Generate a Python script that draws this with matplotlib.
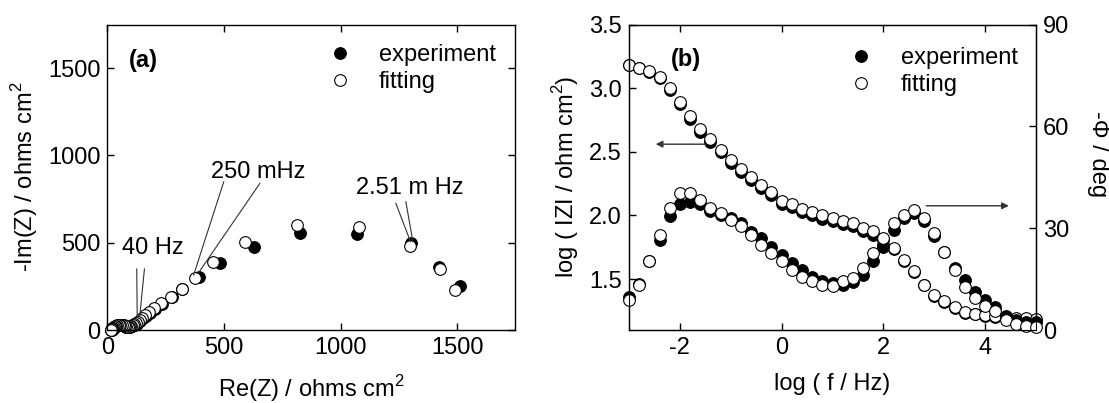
import matplotlib
matplotlib.use("Agg")
import matplotlib.pyplot as plt

plt.rcParams['font.family'] = ['Liberation Sans', 'DejaVu Sans']
plt.rcParams['mathtext.fontset'] = 'custom'
plt.rcParams['mathtext.rm'] = 'Liberation Sans'
plt.rcParams['font.size'] = 17
plt.rcParams['axes.unicode_minus'] = False

# panel (a): Nyquist, low frequency -> high frequency
re_exp = [1514, 1423, 1302, 1071, 826, 628, 482, 391, 322, 276, 236, 205, 183, 165, 152, 142,
          133, 125, 118, 112, 105, 99, 94, 89, 84, 78, 72, 65, 58, 51, 44, 38, 33, 29, 25, 23,
          21, 20, 19, 18, 17]
im_exp = [252, 359, 497, 550, 554, 474, 382, 302, 236, 188, 150, 120, 100, 82, 66, 54,
          44, 36, 30, 26, 22, 19, 17, 16, 17, 20, 24, 27, 28, 28, 27, 24, 20, 15, 11, 8,
          5, 4, 3, 2, 1]
re_fit = [1490, 1428, 1299, 1080, 815, 592, 453, 377, 318, 272, 232, 202, 180, 162, 150, 140,
          131, 123, 116, 110, 103, 97, 92, 87, 82, 76, 70, 63, 56, 49, 42, 36, 31, 27, 24, 22,
          20, 19, 18, 17, 16]
im_fit = [229, 348, 481, 590, 600, 506, 391, 296, 236, 190, 152, 124, 104, 86, 70, 58,
          48, 40, 34, 29, 24, 21, 19, 18, 19, 22, 26, 29, 30, 30, 28, 25, 21, 16, 12, 9,
          6, 4, 3, 2, 1]

# panel (b): Bode
log_f = [-3.0, -2.8, -2.6, -2.4, -2.2, -2.0, -1.8, -1.6, -1.4, -1.2, -1.0, -0.8, -0.6, -0.4,
         -0.2, 0.0, 0.2, 0.4, 0.6, 0.8, 1.0, 1.2, 1.4, 1.6, 1.8, 2.0, 2.2, 2.4, 2.6, 2.8,
         3.0, 3.2, 3.4, 3.6, 3.8, 4.0, 4.2, 4.4, 4.6, 4.8, 5.0]
logz_exp = [3.182, 3.156, 3.128, 3.083, 2.985, 2.872, 2.757, 2.658, 2.580, 2.497, 2.415, 2.342,
            2.276, 2.218, 2.158, 2.088, 2.063, 2.025, 2.000, 1.975, 1.955, 1.930, 1.915, 1.880,
            1.850, 1.770, 1.735, 1.645, 1.553, 1.450, 1.371, 1.320, 1.276, 1.236, 1.222, 1.212,
            1.202, 1.197, 1.187, 1.184, 1.182]
logz_fit = [3.186, 3.160, 3.133, 3.089, 3.002, 2.892, 2.779, 2.680, 2.601, 2.517, 2.439, 2.366,
            2.300, 2.242, 2.182, 2.115, 2.090, 2.050, 2.025, 2.000, 1.980, 1.956, 1.940, 1.905,
            1.875, 1.810, 1.745, 1.652, 1.561, 1.456, 1.377, 1.325, 1.281, 1.241, 1.228, 1.220,
            1.210, 1.205, 1.195, 1.192, 1.190]
phase_exp = [9.8, 13.5, 20.2, 26.6, 33.6, 37.2, 37.6, 37.0, 35.2, 34.0, 32.9, 31.5, 29.0, 27.0,
             24.6, 22.1, 19.7, 17.7, 15.5, 14.3, 13.8, 13.3, 14.0, 16.2, 20.2, 24.6, 29.5, 33.0,
             34.4, 32.0, 27.7, 23.1, 18.2, 14.8, 11.3, 8.9, 6.8, 4.2, 3.0, 2.5, 2.4]
phase_fit = [8.9, 13.3, 20.2, 28.0, 36.0, 40.3, 40.3, 38.2, 35.9, 34.4, 32.5, 30.5, 28.0, 25.1,
             22.8, 20.2, 17.7, 15.7, 14.3, 13.3, 13.0, 14.3, 15.3, 18.2, 22.6, 27.0, 31.5, 34.0,
             35.4, 33.0, 28.5, 23.1, 17.7, 12.8, 9.4, 7.1, 5.5, 3.0, 1.8, 1.1, 0.9]

MS = 8.4
exp_style = dict(ls='none', marker='o', ms=MS, mfc='black', mec='black', mew=0.8, clip_on=False)
fit_style = dict(ls='none', marker='o', ms=MS, mfc='white', mec='black', mew=0.8, clip_on=False)


def style_axes(ax):
    ax.tick_params(direction='in', length=5, width=1, top=True, right=True, pad=5)
    for s in ax.spines.values():
        s.set_linewidth(1)


fig = plt.figure(figsize=(11.09, 4.03), dpi=100)

# ---- (a)
ax1 = fig.add_axes([0.0968, 0.1811, 0.368, 0.758])
ax1.plot(re_exp, im_exp, label='experiment', **exp_style)
ax1.plot(re_fit, im_fit, label='fitting', **fit_style)
ax1.set_xlim(0, 1750)
ax1.set_ylim(0, 1750)
ax1.set_xticks([0, 500, 1000, 1500])
ax1.set_yticks([0, 500, 1000, 1500])
style_axes(ax1)
ax1.set_xlabel('Re(Z) / ohms cm$^2$', labelpad=10)
ax1.set_ylabel('-Im(Z) / ohms cm$^2$', labelpad=6)
ax1.text(92, 1546, '(a)', fontweight='bold', va='center')
ax1.text(195, 470, '40 Hz', ha='center', va='center')
ax1.plot([126, 128], [350, 75], color='#333333', lw=0.8)
ax1.plot([159, 139], [350, 80], color='#333333', lw=0.8)
ax1.text(645, 905, '250 mHz', ha='center', va='center')
ax1.plot([499, 370], [849, 315], color='#333333', lw=0.8)
ax1.plot([654, 391], [840, 328], color='#333333', lw=0.8)
ax1.text(1297, 813, '2.51 m Hz', ha='center', va='center')
ax1.plot([1237, 1300], [726, 506], color='#333333', lw=0.8)
ax1.plot([1280, 1309], [735, 515], color='#333333', lw=0.8)
ax1.legend(loc='upper left', bbox_to_anchor=(0.540, 0.936), frameon=False, borderpad=0,
           handlelength=1.0, handletextpad=1.17, labelspacing=0.2, borderaxespad=0)

# ---- (b)
ax2 = fig.add_axes([0.5672, 0.1811, 0.367, 0.758])
ax3 = ax2.twinx()
ax2.plot(log_f, logz_exp, label='experiment', **exp_style)
ax2.plot(log_f, logz_fit, label='fitting', **fit_style)
ax3.plot(log_f, phase_exp, **exp_style)
ax3.plot(log_f, phase_fit, **fit_style)
ax2.set_xlim(-3, 5)
ax2.set_ylim(1.1, 3.5)
ax3.set_ylim(0, 90)
ax2.set_xticks([-2, 0, 2, 4])
ax2.set_yticks([1.5, 2.0, 2.5, 3.0, 3.5])
ax3.set_yticks([0, 30, 60, 90])
ax2.tick_params(direction='in', length=5, width=1, top=True, right=False, pad=5)
ax3.tick_params(direction='in', length=5, width=1, pad=5)
for s in ax2.spines.values():
    s.set_linewidth(1)
ax2.set_xlabel('log ( f / Hz)', labelpad=10)
ax2.set_ylabel('log ( IZI / ohm cm$^2$)', labelpad=6)
ax3.set_ylabel('-Φ / deg', rotation=270, ha='center', va='center')
ax3.yaxis.set_label_coords(1.152, 0.577)
ax2.text(-2.18, 3.225, '(b)', fontweight='bold', va='center')
ax2.annotate('', xy=(-2.53, 2.56), xytext=(-1.43, 2.56),
             arrowprops=dict(arrowstyle='-|>', color='#333333', lw=1, mutation_scale=10))
ax3.annotate('', xy=(4.52, 36.6), xytext=(2.785, 36.6),
             arrowprops=dict(arrowstyle='-|>', color='#333333', lw=1, mutation_scale=10))
ax2.legend(loc='upper left', bbox_to_anchor=(0.541, 0.925), frameon=False, borderpad=0,
           handlelength=1.0, handletextpad=1.19, labelspacing=0.2, borderaxespad=0)

fig.savefig('out.png', dpi=100)
